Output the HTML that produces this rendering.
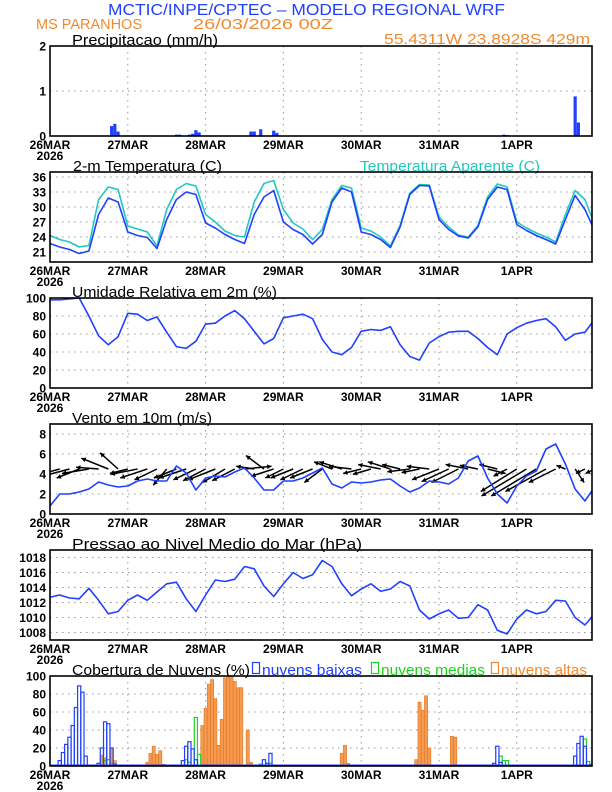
<!DOCTYPE html>
<html><head><meta charset="utf-8"><style>
html,body{margin:0;padding:0;background:#fff;}
svg{display:block;}
text{font-family:"Liberation Sans",sans-serif;}
.tk{font-family:"Liberation Sans Narrow","Liberation Sans",sans-serif;font-weight:bold;font-size:12px;}
</style></head><body>
<svg id="chart" width="612" height="792" viewBox="0 0 612 792" xmlns="http://www.w3.org/2000/svg">
<text x="108" y="15" font-size="16" fill="#2040ff" textLength="397" lengthAdjust="spacingAndGlyphs">MCTIC/INPE/CPTEC – MODELO REGIONAL WRF</text>
<text x="36" y="29" font-size="15" fill="#f08a30" textLength="106" lengthAdjust="spacingAndGlyphs">MS PARANHOS</text>
<text x="193" y="29" font-size="15" fill="#f08a30" textLength="140" lengthAdjust="spacingAndGlyphs">26/03/2026 00Z</text>
<text x="384" y="44" font-size="15" fill="#f08a30" textLength="206" lengthAdjust="spacingAndGlyphs">55.4311W 23.8928S 429m</text>
<text x="72" y="45" font-size="15" textLength="146" lengthAdjust="spacingAndGlyphs">Precipitacao (mm/h)</text>
<text x="73" y="171" font-size="15" textLength="149" lengthAdjust="spacingAndGlyphs">2-m Temperatura (C)</text>
<text x="360" y="171" font-size="15" fill="#20c8c0" textLength="180" lengthAdjust="spacingAndGlyphs">Temperatura Aparente (C)</text>
<text x="72" y="297" font-size="15" textLength="205" lengthAdjust="spacingAndGlyphs">Umidade Relativa em 2m (%)</text>
<text x="72" y="423" font-size="15" textLength="140" lengthAdjust="spacingAndGlyphs">Vento em 10m (m/s)</text>
<text x="72" y="549" font-size="15" textLength="290" lengthAdjust="spacingAndGlyphs">Pressao ao Nivel Medio do Mar (hPa)</text>
<text x="72" y="675" font-size="15" textLength="178" lengthAdjust="spacingAndGlyphs">Cobertura de Nuvens (%)</text>
<rect x="252.5" y="662.5" width="7" height="11" fill="none" stroke="#2040ff" stroke-width="1.2"/>
<text x="262" y="675" font-size="15" fill="#2040ff" textLength="100" lengthAdjust="spacingAndGlyphs">nuvens baixas</text>
<rect x="371.5" y="662.5" width="7" height="11" fill="none" stroke="#20d020" stroke-width="1.2"/>
<text x="381" y="675" font-size="15" fill="#20d020" textLength="104" lengthAdjust="spacingAndGlyphs">nuvens medias</text>
<rect x="491.5" y="662.5" width="7" height="11" fill="none" stroke="#f08a30" stroke-width="1.2"/>
<text x="501" y="675" font-size="15" fill="#f08a30" textLength="86" lengthAdjust="spacingAndGlyphs">nuvens altas</text>
</svg>
<script>
const dayLabels = ["26MAR","27MAR","28MAR","29MAR","30MAR","31MAR","1APR"];
const precipHours = [19,20,21,39,40,43,44,45,46,62,63,65,69,70,140,141,162,163];
const precipVals = [0.22,0.27,0.1,0.03,0.03,0.03,0.05,0.13,0.08,0.1,0.1,0.15,0.12,0.07,0.03,0.02,0.88,0.3];
const tempVals = [22.7,22.0,21.5,20.7,21.2,28.5,31.8,31.0,25.0,24.3,23.9,21.7,27.5,31.5,33.0,32.5,26.8,25.8,24.5,23.5,22.7,28.5,32.0,33.3,27.0,25.5,24.5,22.6,24.5,31,33.8,33.0,25.0,24.5,23.5,21.9,26,32.5,34.3,34.2,27.5,25.5,24.2,23.8,26,31.5,34.0,33.5,26.5,25.3,24.3,23.5,22.6,27.5,32.3,29.5,25.3];
const appTempVals = [24.3,23.5,23.0,22.0,22.3,31.5,34.0,33.5,26.2,25.6,25.0,22.2,29.5,33.5,34.7,34.2,28.5,27.0,25.2,24.3,24.0,31,34.7,35.3,29.5,26.8,25.6,23.5,25.5,31.5,34.3,33.8,25.8,25.2,24,22.2,26.3,32.8,34.5,34.4,28,26,24.4,24.0,26.3,32,34.6,34,27,25.8,24.8,24,23,28.5,33.3,31.5,26.5];
const humidVals = [98,98,99,100,80,58,48,57,83,82,75,79,62,46,44,52,71,72,80,86,77,63,49,55,78,80,82,77,54,40,37,45,63,65,64,68,48,35,31,50,57,62,63,63,55,45,37,60,67,72,75,77,68,53,60,62,76];
const windVals = [0.8,2.0,2.0,2.2,2.5,3.2,2.9,2.7,2.8,3.3,3.5,3.3,3.3,4.8,4.1,2.4,3.6,3.8,3.7,4.2,4.6,3.6,2.4,2.4,3.3,3.3,3.6,4.1,4.6,3.0,2.6,3.2,3.1,3.2,3.4,3.5,2.8,2.2,2.6,3.3,3.2,3.0,3.6,5.3,5.8,3.6,2.0,1.1,2.8,3.8,4.3,6.5,7.0,5.0,2.5,1.3,2.7];
const windU = [-2.5,-3,-3,-2.5,-3,-2.5,-3,-2,-2,-3,-3,-2.5,-1.5,-2.5,-3,-2.5,-2.5,-3,-2.5,-2.5,3,-2,-2,-2.5,-2,-2.5,-2.5,-2.5,-2,-2,-2.5,-2.5,-2,-2,-2.5,-2.5,-2,-2.5,-2,-2.5,-3,-3,-3,-2.5,-2,2,-2,-1.5,-4,-5,-5,-4.5,-3,-1,1,-1,-1];
const windV = [-0.5,-0.8,-0.8,-1,-0.5,0.2,1.2,1.8,-0.5,-0.6,-1,-1.2,-1.8,-1,-1,-1.2,-1.3,-1.2,-1.5,-1.3,0.3,0.3,1.5,-0.8,-1,-1,-1.2,-1,-1.5,0.8,0.8,0.3,-0.5,-0.6,0.5,0.8,0.5,-0.3,-0.4,0.3,-1.2,-1.4,-1.5,0.5,0.4,-0.5,0.5,-0.8,-2.5,-3,-3,-2.5,-1.5,0.4,-1.5,-0.5,-0.5];
const presVals = [1012.7,1013.0,1012.6,1012.5,1013.9,1012.3,1010.5,1010.8,1012.3,1013.0,1012.3,1013.4,1014.5,1014.7,1012.5,1010.8,1013,1015,1014.8,1015.1,1016.8,1016.5,1014.2,1012.8,1014.5,1016.0,1015.2,1015.7,1017.6,1016.8,1014.5,1012.9,1013.8,1014.5,1013.5,1013.8,1014.8,1014.2,1011,1009.8,1010.5,1011,1009.9,1010,1011.7,1011,1008.3,1007.8,1009.8,1011,1010.5,1010.8,1012.3,1012.2,1010,1009,1010.5];
const lowHours = [3,4,5,6,7,8,9,10,11,15,16,17,18,19,20,41,42,43,44,45,66,67,68,137,138,139,162,163,164,165];
const lowVals = [6,15,24,32,45,65,89,82,11,3,20,49,47,20,2,6,22,27,19,7,7,3,14,3,22,4,11,25,33,22];
const midHours = [17,18,19,42,43,45,46,65,68,69,139,140,141,165,166,167];
const midVals = [6,7,3,7,4,54,13,2,3,1,11,6,6,30,5,2];
const highHours = [16,17,19,20,30,31,32,33,34,35,47,48,49,50,51,52,53,54,55,56,57,58,59,61,62,90,91,92,113,114,115,116,117,124,125];
const highVals = [12,9,20,6,4,14,22,13,17,2,45,64,91,96,75,23,52,98,100,100,94,87,87,40,4,14,23,3,7,71,62,78,20,33,32];
const STEP = 3;

const NS = "http://www.w3.org/2000/svg";
const svg = document.getElementById("chart");
const X0 = 50, X1 = 592, DAY = 77.8, PH = 90;
function xs(h){ return X0 + h*DAY/24; }
function mk(tag, attrs, parent){
  const e = document.createElementNS(NS, tag);
  for (const k in attrs) e.setAttribute(k, attrs[k]);
  (parent||svg).appendChild(e);
  return e;
}
const panels = [
  {key:"precip", top:46, min:0, max:2, ticks:[0,1,2]},
  {key:"temp", top:172, min:19, max:37, ticks:[21,24,27,30,33,36]},
  {key:"humid", top:298, min:0, max:100, ticks:[0,20,40,60,80,100]},
  {key:"wind", top:424, min:0, max:9, ticks:[0,2,4,6,8]},
  {key:"pres", top:550, min:1007, max:1019, ticks:[1008,1010,1012,1014,1016,1018]},
  {key:"cloud", top:676, min:0, max:100, ticks:[0,20,40,60,80,100]}
];
function ysc(p, v){ return p.top + PH - (v - p.min)/(p.max - p.min)*PH; }
const P = {};
panels.forEach(p => {
  P[p.key] = p;
  const g = mk("g", {});
  
  
  p.g = g;
  const cp = mk("clipPath", {id:"clip-"+p.key}, g);
  mk("rect", {x:X0, y:p.top, width:X1-X0, height:PH}, cp);
  p.ticks.forEach(t => {
    const y = ysc(p, t);
    if (t !== p.min && y > p.top + 1) {
      const gl = mk("line", {x1:X0, x2:X1, y1:y, y2:y, stroke:"#999", "stroke-width":1, "stroke-dasharray":"1.5,4.5"}, g);
      
      
    }
    const tl = mk("text", {x:46, y:y+4.5, "text-anchor":"end", class:"tk"}, g);
    tl.textContent = String(t);
    
    
  });
  dayLabels.forEach((d, i) => {
    const x = xs(i*24);
    if (i > 0) {
      const vl = mk("line", {x1:x, x2:x, y1:p.top, y2:p.top+PH, stroke:"#999", "stroke-width":1, "stroke-dasharray":"1.5,4.5"}, g);
      
      
    }
    const xl = mk("text", {x:x, y:p.top+PH+13, "text-anchor":"middle", class:"tk"}, g);
    xl.textContent = d;
    
    
  });
  const yr = mk("text", {x:X0, y:p.top+PH+24, "text-anchor":"middle", class:"tk"}, g);
  yr.textContent = "2026";
  
  
  p.plot = mk("g", {"clip-path":"url(#clip-"+p.key+")"}, g);
});

function drawLine(p, vals, color, name, w){
  const pts = vals.map((v,i) => xs(i*STEP).toFixed(1) + "," + ysc(p, v).toFixed(1)).join(" ");
  const l = mk("polyline", {points:pts, fill:"none", stroke:color, "stroke-width":w||1.6, "stroke-linejoin":"round"}, p.plot);
  
  
}
function drawBars(p, hrs, vals, style, name){
  hrs.forEach((h,i) => {
    const y = ysc(p, vals[i]);
    const b = mk("rect", Object.assign({x:xs(h)-1.6, y:y, width:3.2, height:Math.max(0, p.top+PH-y)}, style), p.plot);
    
    
  });
}

drawBars(P.precip, precipHours, precipVals, {fill:"#2040ff"}, 'precip-bar');
drawLine(P.temp, appTempVals, "#20c8c0", 'apparent-temp-line');
drawLine(P.temp, tempVals, "#2040ff", 'temp-line');
drawLine(P.humid, humidVals, "#2040ff", 'humidity-line');
const wp = P.wind, baseY = ysc(wp, 4.5), SC = 9;
windU.forEach((u,i) => {
  const x = xs(i*STEP), x2 = x + u*SC, y2 = baseY - windV[i]*SC;
  const a = mk("line", {x1:x, y1:baseY, x2:x2, y2:y2, stroke:"#000", "stroke-width":1.5}, wp.plot);
  
  
  const ang = Math.atan2(y2-baseY, x2-x), hl = 5;
  const hp = [[x2,y2],[x2-hl*Math.cos(ang-0.5), y2-hl*Math.sin(ang-0.5)],[x2-hl*Math.cos(ang+0.5), y2-hl*Math.sin(ang+0.5)]];
  const hd = mk("polygon", {points:hp.map(q=>q[0].toFixed(1)+","+q[1].toFixed(1)).join(" "), fill:"#000"}, wp.plot);
  
  
});
drawLine(wp, windVals, "#2040ff", 'wind-speed-line');
drawLine(P.pres, presVals, "#2040ff", 'pressure-line');
const cp = P.cloud;
drawBars(cp, highHours, highVals, {fill:"#f59a50", stroke:"#e07820", "stroke-width":0.6}, 'cloud-high-bar');
drawBars(cp, midHours, midVals, {fill:"none", stroke:"#20d020", "stroke-width":1.2}, 'cloud-mid-bar');
drawBars(cp, lowHours, lowVals, {fill:"none", stroke:"#2040ff", "stroke-width":1.2}, 'cloud-low-bar');
const cb = mk("line", {x1:X0, x2:X1, y1:cp.top+PH-0.5, y2:cp.top+PH-0.5, stroke:"#2040ff", "stroke-width":2}, cp.plot);



panels.forEach(p => {
  const f = mk("rect", {x:X0, y:p.top, width:X1-X0, height:PH, fill:"none", stroke:"#000", "stroke-width":1.6}, p.g);
  
  
});
</script>
</body></html>
